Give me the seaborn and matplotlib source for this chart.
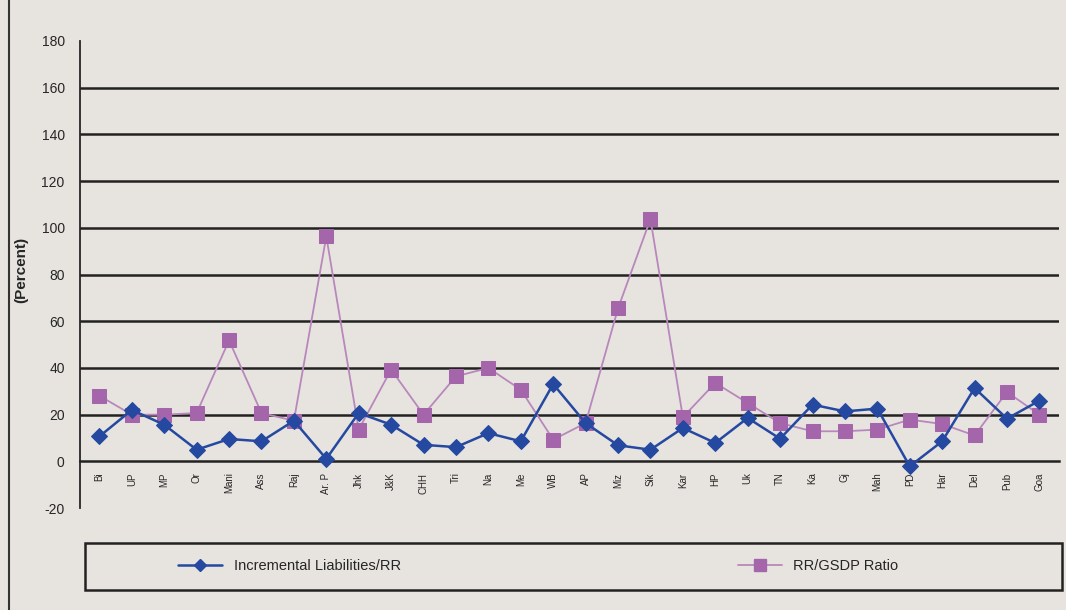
import matplotlib
matplotlib.use("Agg")
import matplotlib.pyplot as plt
from matplotlib.lines import Line2D
from matplotlib.patches import Rectangle
import pandas as pd
import seaborn as sns

states = ['Bi', 'UP', 'MP', 'Or', 'Mani', 'Ass', 'Raj', 'Ar. P', 'Jhk', 'J&K',
          'CHH', 'Tri', 'Na', 'Me', 'WB', 'AP', 'Miz', 'Sik', 'Kar', 'HP',
          'Uk', 'TN', 'Ka', 'Gj', 'Mah', 'PD', 'Har', 'Del', 'Pub', 'Goa']
incr_liab_rr = [10.7, 22, 15.7, 5, 9.6, 8.6, 17.4, 1.1, 20.7, 15.7,
                7.1, 6.1, 12.1, 8.6, 33.1, 16.4, 6.9, 5, 14.3, 7.9,
                18.6, 9.7, 24.3, 21.4, 22.6, -2.1, 8.6, 31.4, 18.3, 26]
rr_gsdp = [28.1, 20, 20, 20.7, 51.8, 20.7, 17.4, 96.3, 13.6, 39.3,
           20, 36.4, 40, 30.7, 9.3, 16.4, 65.5, 103.7, 18.9, 33.6,
           25, 16.4, 12.9, 12.9, 13.6, 17.9, 16, 11.1, 29.7, 20]
series_names = ['Incremental Liabilities/RR', 'RR/GSDP Ratio']
y_ticks = list(range(-20, 181, 20))

paper = '#e7e4e0'
blue = '#2548a0'
pink = '#a565aa'
pink_line = '#b887bb'

df = pd.DataFrame({'pos': range(len(states)), 'state': states,
                   series_names[0]: incr_liab_rr, series_names[1]: rr_gsdp})

sns.set_style('white')
plt.rcParams['font.family'] = ['Liberation Sans', 'DejaVu Sans']
plt.rcParams['axes.unicode_minus'] = False

fig = plt.figure(figsize=(10.66, 6.10), dpi=100, facecolor=paper)
ax = fig.add_axes([0.075, 0.167, 0.918, 0.766])
ax.set_facecolor(paper)

# grid lines first so the series sit on top
for v in y_ticks:
    if 0 < v < 180:
        ax.axhline(v, color='#222222', lw=1.8, zorder=1)

sns.lineplot(data=df, x='pos', y=series_names[1], ax=ax, color=pink_line, lw=1.3,
             marker='s', markersize=10, markerfacecolor=pink, markeredgecolor=pink,
             zorder=3)
sns.lineplot(data=df, x='pos', y=series_names[0], ax=ax, color=blue, lw=1.8,
             marker='D', markersize=8, markerfacecolor=blue, markeredgecolor=blue,
             zorder=4)

ax.set_xlim(-0.6, len(states) - 0.41)
ax.set_ylim(-20, 180)
ax.set_yticks(y_ticks)
ax.tick_params(axis='y', labelsize=10, length=5, width=1.2, direction='out', pad=6)

for s in ['top', 'right']:
    ax.spines[s].set_visible(False)
ax.spines['left'].set_linewidth(1.3)
ax.spines['bottom'].set_position(('data', 0))
ax.spines['bottom'].set_linewidth(1.8)
ax.spines['bottom'].set_color('#222222')

# ticks between categories, labels at categories
ax.set_xticks([i + 0.5 for i in range(len(states) - 1)])
ax.set_xticklabels([])
ax.tick_params(axis='x', which='major', length=5, width=1.2, direction='out')
ax.set_xticks(range(len(states)), minor=True)
ax.set_xticklabels(states, minor=True, rotation=90, fontsize=7)
ax.tick_params(axis='x', which='minor', length=0, pad=8)

ax.set_xlabel('')
ax.set_ylabel('(Percent)', fontsize=11, fontweight='bold', labelpad=4)
ax.yaxis.set_label_coords(-0.053, 0.51)

# legend box across the bottom
fig.patches.append(Rectangle((0.08, 0.033), 0.916, 0.077, transform=fig.transFigure,
                             facecolor='none', edgecolor='#222222', lw=1.8))
h1 = Line2D([], [], color=blue, lw=1.8, marker='D', markersize=6)
h2 = Line2D([], [], color=pink_line, lw=1.3, marker='s', markersize=8,
            markerfacecolor=pink, markeredgecolor=pink)
fig.legend([h1], [series_names[0]], loc='center left', bbox_to_anchor=(0.155, 0.072),
           frameon=False, fontsize=10.5, handlelength=3)
fig.legend([h2], [series_names[1]], loc='center left', bbox_to_anchor=(0.68, 0.072),
           frameon=False, fontsize=10.5, handlelength=3)

# outer frame line on the left
fig.lines.append(Line2D([0.008, 0.008], [0, 1], transform=fig.transFigure,
                        color='#333333', lw=1.5))

fig.savefig('out.png', dpi=100, facecolor=paper)
